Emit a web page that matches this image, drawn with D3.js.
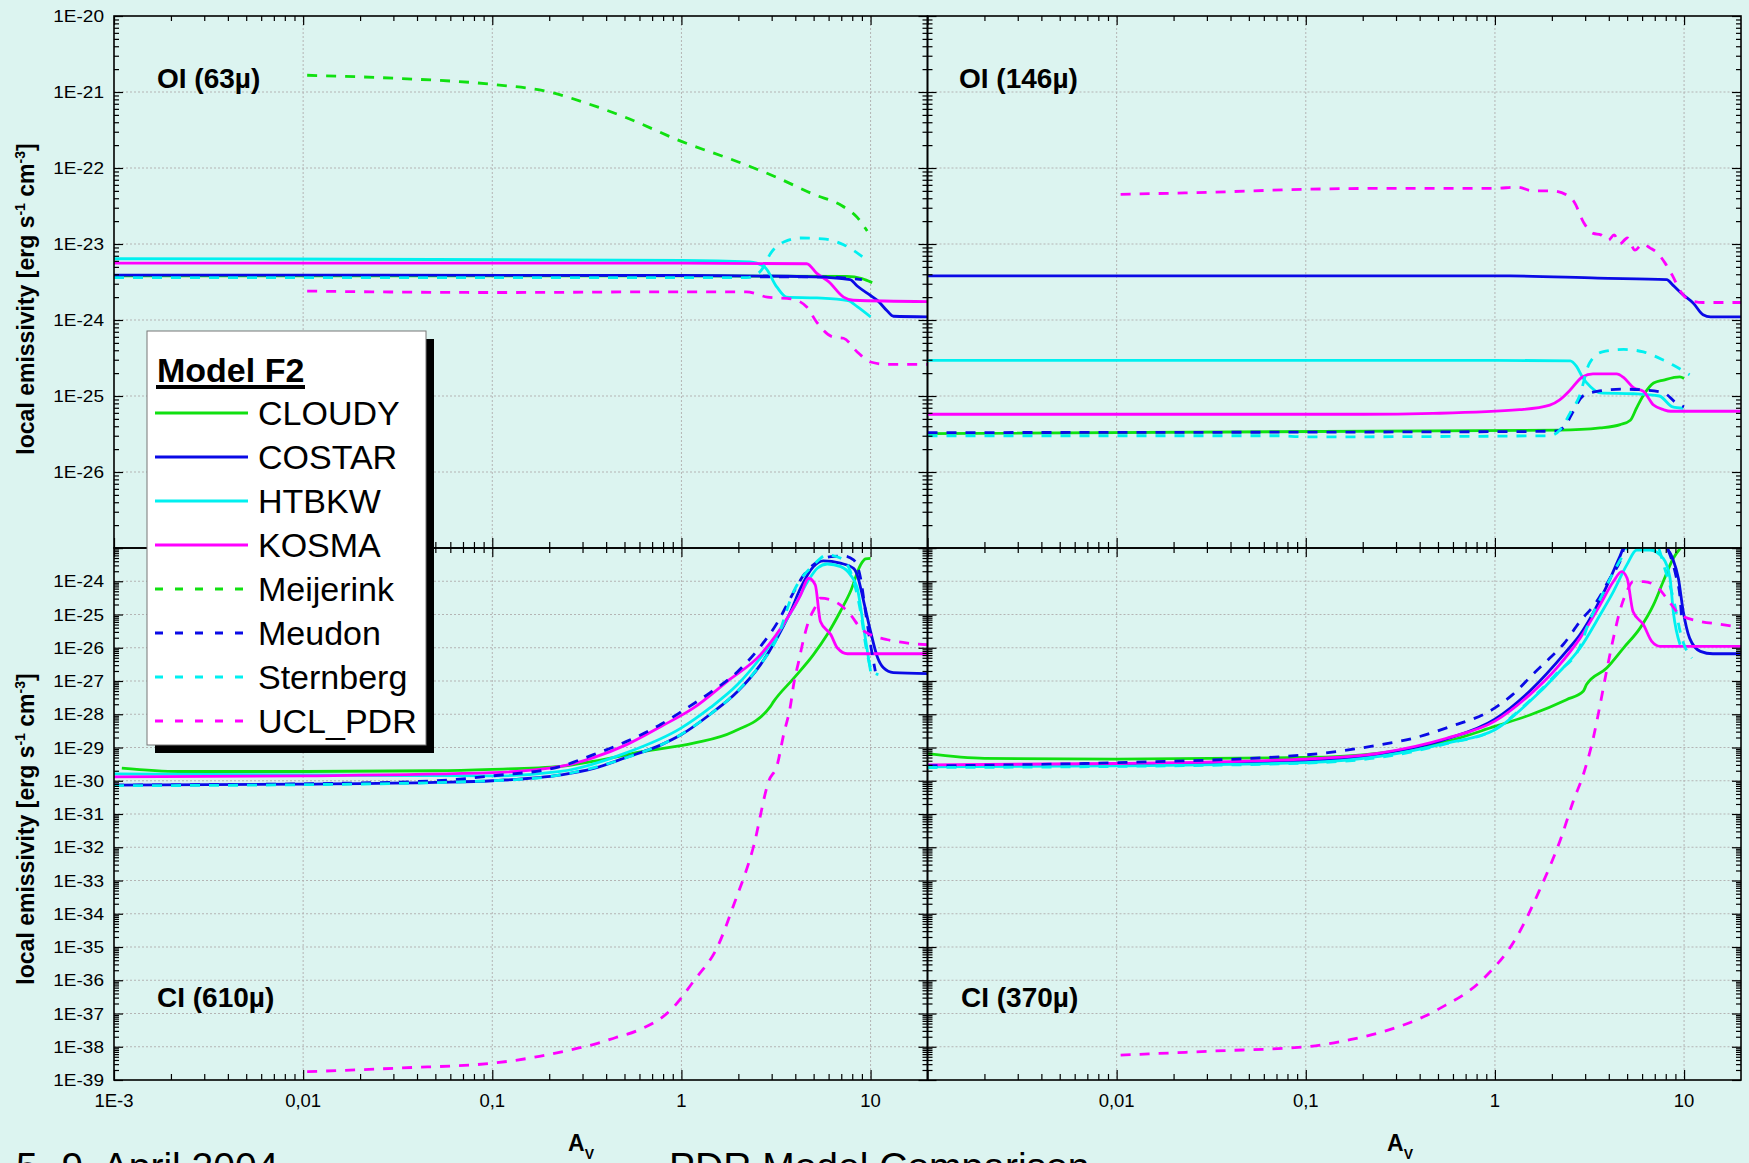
<!DOCTYPE html>
<html><head><meta charset="utf-8">
<script src="https://cdn.jsdelivr.net/npm/d3@7"></script>
<style>body{margin:0;background:#dcf4f0;}svg{display:block;}</style>
</head><body><svg id="c" width="1749" height="1163"></svg>
<script>
// ---------------- DATA (Av, local emissivity) ----------------
const models = ["CLOUDY","COSTAR","HTBKW","KOSMA","Meijerink","Meudon","Sternberg","UCL_PDR"];
const modelColors = ["#10e010","#0a0ae6","#00f0f0","#ff00ff","#10e010","#0a0ae6","#00f0f0","#ff00ff"];
const modelDashed = [false,false,false,false,true,true,true,true];
const xTickValues = [0.001,0.01,0.1,1,10];
const xTickLabels = ["1E-3","0,01","0,1","1","10"];
const topYLabelExps = [-20,-21,-22,-23,-24,-25,-26];
const botYLabelExps = [-24,-25,-26,-27,-28,-29,-30,-31,-32,-33,-34,-35,-36,-37,-38,-39];
const panelTitles = ["OI (63µ)","OI (146µ)","CI (610µ)","CI (370µ)"];

// Panel 1: OI (63µ)
const p1_cloudy = [[0.001,3.8e-24],[1,3.8e-24],[7.5,3.75e-24],[9,3.5e-24],[10.2,3.1e-24]];
const p1_costar = [[0.001,3.9e-24],[1,3.85e-24],[5,3.7e-24],[7.8,3.4e-24],[8.5,2.8e-24],[10,2.1e-24],[10.9,1.8e-24],[12.3,1.3e-24],[13.2,1.12e-24],[20,1.1e-24]];
const p1_htbkw = [[0.001,6.4e-24],[1,6.1e-24],[2.3,5.8e-24],[2.75,5.0e-24],[3.2,2.7e-24],[3.6,2.0e-24],[5.2,1.95e-24],[7.6,1.8e-24],[8.5,1.5e-24],[10,1.1e-24]];
const p1_kosma = [[0.001,5.6e-24],[1,5.6e-24],[4.6,5.5e-24],[5.2,4.1e-24],[6.0,3.2e-24],[7.2,2.0e-24],[8.1,1.82e-24],[20,1.75e-24]];
const p1_meijerink = [[0.0105,1.66e-21],[0.0316,1.51e-21],[0.1,1.26e-21],[0.2,1.0e-21],[0.316,7.1e-22],[0.5,4.7e-22],[1,2.24e-22],[2,1.2e-22],[3.16,7.6e-23],[5,4.5e-23],[7.1,3.16e-23],[8.5,2.24e-23],[9.6,1.48e-23]];
const p1_meudon = [[0.001,3.65e-24],[1,3.7e-24],[5,3.7e-24],[8,3.5e-24],[9,3.4e-24]];
const p1_sternberg = [[0.001,3.6e-24],[2.2,3.6e-24],[2.6,4.3e-24],[3.0,7.9e-24],[3.5,1.07e-23],[4.3,1.2e-23],[5.6,1.17e-23],[7.2,9.8e-24],[9.5,6.2e-24]];
const p1_ucl = [[0.0105,2.4e-24],[0.1,2.3e-24],[1,2.35e-24],[2.2,2.35e-24],[2.85,2.0e-24],[3.8,1.9e-24],[4.6,1.48e-24],[5.2,9.3e-25],[6.3,6.0e-25],[7.2,5.75e-25],[8.5,3.8e-25],[10,2.8e-25],[12.3,2.6e-25],[20,2.6e-25]];

// Panel 2: OI (146µ)
const p2_cloudy = [[0.001,3.2e-26],[2.2,3.55e-26],[3.6,3.8e-26],[4.6,4.2e-26],[5.2,4.8e-26],[5.6,6.9e-26],[6.1,1.02e-25],[6.9,1.48e-25],[7.8,1.62e-25],[9.5,1.78e-25],[10,1.7e-25]];
const p2_costar = [[0.001,3.8e-24],[1.2,3.8e-24],[3.5,3.55e-24],[8.1,3.4e-24],[8.7,2.9e-24],[9.9,2.14e-24],[11.2,1.66e-24],[12.6,1.17e-24],[13.8,1.1e-24],[20,1.1e-24]];
const p2_htbkw = [[0.001,2.95e-25],[1,2.95e-25],[2.5,2.9e-25],[2.7,2.45e-25],[2.9,1.78e-25],[3.2,1.32e-25],[3.6,1.1e-25],[5.4,1.07e-25],[7.4,1.0e-25],[8.7,7.2e-26],[9.9,6.9e-26]];
const p2_kosma = [[0.001,5.75e-26],[0.2,5.75e-26],[0.47,5.9e-26],[1.35,6.6e-26],[1.95,7.6e-26],[2.2,8.9e-26],[2.5,1.2e-25],[2.9,1.78e-25],[3.3,1.95e-25],[4.4,1.95e-25],[4.8,1.74e-25],[5.4,1.29e-25],[6.1,1.15e-25],[6.9,7.6e-26],[7.8,6.6e-26],[8.5,6.3e-26],[20,6.3e-26]];
const p2_meudon = [[0.001,3.3e-26],[1.3,3.4e-26],[2.14,3.47e-26],[2.4,4.4e-26],[2.57,6.0e-26],[2.92,1.0e-25],[3.47,1.15e-25],[4.8,1.23e-25],[6.1,1.2e-25],[7.8,1.1e-25],[9.1,8.1e-26],[10,7.2e-26]];
const p2_sternberg = [[0.001,3.0e-26],[0.07,3.0e-26],[0.1,2.9e-26],[1.95,3.0e-26],[2.2,3.55e-26],[2.5,6.0e-26],[2.8,1.0e-25],[3.16,2.7e-25],[3.7,3.8e-25],[4.8,4.1e-25],[6.1,3.8e-25],[7.8,2.95e-25],[8.7,2.57e-25],[10.7,1.9e-25]];
const p2_ucl = [[0.0105,4.5e-23],[0.0316,4.8e-23],[0.1,5.25e-23],[0.316,5.4e-23],[1,5.4e-23],[1.32,5.6e-23],[1.58,5.0e-23],[2.0,5.0e-23],[2.4,4.4e-23],[2.63,3.55e-23],[2.95,1.9e-23],[3.31,1.38e-23],[3.63,1.32e-23],[3.98,1.12e-23],[4.27,1.32e-23],[4.57,1.0e-23],[5.01,1.2e-23],[5.5,8.3e-24],[6.03,1.0e-23],[6.6,8.9e-24],[7.24,7.6e-24],[7.94,5.6e-24],[8.7,3.8e-24],[9.55,2.4e-24],[10.7,1.82e-24],[12.6,1.7e-24],[20,1.7e-24]];

// Panel 3: CI (610µ)
const p3_cloudy = [[0.0011,2.4e-30],[0.0022,1.9e-30],[0.01,1.9e-30],[0.05,2.0e-30],[0.1,2.2e-30],[0.23,2.7e-30],[0.34,3.8e-30],[0.63,7.6e-30],[1.16,1.35e-29],[1.88,3.0e-29],[2.95,1.7e-28],[3.07,2.4e-28],[3.92,1.2e-27],[4.99,6.2e-27],[5.89,2.45e-26],[6.92,1.23e-25],[7.83,4.9e-25],[8.85,3.1e-24],[9.4,4.7e-24],[10,4.9e-24]];
const p3_costar = [[0.001,7.4e-31],[0.01,7.9e-31],[0.05,8.9e-31],[0.1,1.0e-30],[0.23,1.5e-30],[0.34,2.3e-30],[0.51,5.0e-30],[0.78,1.2e-29],[1,2.45e-29],[1.42,1.0e-28],[1.98,4.8e-28],[2.62,3.1e-27],[3.21,2.0e-26],[3.78,1.23e-25],[4.27,6.3e-25],[4.99,2.75e-24],[5.62,4.1e-24],[6.92,3.5e-24],[8.13,2.45e-24],[8.5,1.55e-24],[9.2,2.45e-25],[10,3.1e-26],[10.9,5.0e-27],[11.7,2.5e-27],[13.2,1.78e-27],[20,1.66e-27]];
const p3_htbkw = [[0.001,1.6e-30],[0.01,1.5e-30],[0.1,1.4e-30],[0.23,1.9e-30],[0.51,6.9e-30],[1,3.9e-29],[1.42,1.58e-28],[1.98,7.8e-28],[2.62,5.0e-27],[3.21,2.45e-26],[3.92,1.58e-25],[4.65,9.8e-25],[5.25,2.5e-24],[5.9,3.3e-24],[6.96,2.75e-24],[7.83,1.55e-24],[8.5,6.3e-25],[9.2,4.0e-26],[10,1.95e-27]];
const p3_kosma = [[0.001,1.3e-30],[0.01,1.4e-30],[0.1,1.75e-30],[0.23,2.7e-30],[0.34,4.9e-30],[0.51,1.2e-29],[0.78,4.3e-29],[1.16,1.55e-28],[1.75,9.8e-28],[2.62,6.2e-27],[3.63,7.8e-26],[4.27,3.9e-25],[4.7,1.23e-24],[5.1,7.8e-25],[5.43,6.2e-26],[6.17,2.45e-26],[6.68,9.8e-27],[7.55,6.6e-27],[20,6.6e-27]];
const p3_meudon = [[0.001,7.4e-31],[0.01,8.1e-31],[0.05,1.0e-30],[0.1,1.4e-30],[0.23,2.7e-30],[0.34,6.0e-30],[0.51,1.5e-29],[0.78,5.0e-29],[1,1.2e-28],[1.42,4.5e-28],[1.98,1.9e-27],[2.62,1.1e-26],[3.21,5.6e-26],[3.78,3.2e-25],[4.44,1.55e-24],[5.25,3.9e-24],[6.17,5.5e-24],[7.2,5.75e-24],[8.13,4.4e-24],[8.85,1.26e-24],[9.4,1.23e-25],[10,1.23e-26],[10.6,1.95e-27]];
const p3_sternberg = [[0.001,7.1e-31],[0.01,7.6e-31],[0.1,1.0e-30],[0.23,1.5e-30],[0.51,4.9e-30],[1,2.5e-29],[1.42,1.0e-28],[1.98,5.0e-28],[2.62,3.2e-27],[3.21,2.0e-26],[3.92,4.9e-25],[5.0,3.1e-24],[5.9,6.2e-24],[6.97,4.9e-24],[7.83,1.95e-24],[8.85,1.23e-25],[9.55,7.8e-27],[10.2,1.95e-27],[11.0,1.55e-27]];
const p3_ucl = [[0.0105,1.78e-39],[0.033,2.3e-39],[0.1,3.2e-39],[0.166,4.8e-39],[0.27,8.5e-39],[0.36,1.26e-38],[0.45,1.9e-38],[0.58,3.0e-38],[0.89,1.38e-37],[1.17,1.0e-36],[1.55,1.0e-35],[1.9,2.0e-34],[2.4,1.0e-32],[2.9,1.0e-30],[3.21,3.0e-30],[3.47,2.45e-29],[3.78,1.95e-28],[3.92,7.8e-28],[4.17,3.9e-27],[4.44,1.95e-26],[4.7,6.2e-26],[5.12,1.74e-25],[5.43,3.1e-25],[6.17,2.75e-25],[6.92,1.95e-25],[7.83,9.8e-26],[8.85,3.9e-26],[10,2.45e-26],[12.3,1.74e-26],[15.7,1.38e-26],[20,1.23e-26]];

// Panel 4: CI (370µ)
const p4_cloudy = [[0.001,6.5e-30],[0.002,4.7e-30],[0.01,4.5e-30],[0.1,5.0e-30],[0.245,6.8e-30],[0.555,1.5e-29],[1,4.3e-29],[1.53,9.5e-29],[2.39,2.75e-28],[2.93,4.9e-28],[3.05,7.8e-28],[3.9,2.45e-27],[4.78,9.8e-27],[5.85,3.9e-26],[6.89,1.95e-25],[7.76,9.8e-25],[8.77,4.9e-24],[9.55,9.8e-24],[10,1.3e-23]];
const p4_costar = [[0.001,2.8e-30],[0.01,3.0e-30],[0.1,4.0e-30],[0.245,6.3e-30],[0.555,1.8e-29],[1,7.1e-29],[1.53,5.0e-28],[2.39,7.9e-27],[2.82,2.5e-26],[3.31,1.12e-25],[3.9,7.1e-25],[4.58,5.6e-24],[5.0,1.6e-23],[7.5,1.6e-23],[8.1,1.0e-23],[8.7,4.9e-24],[9.33,1.23e-24],[9.9,1.23e-25],[10.7,1.95e-26],[12.2,7.8e-27],[14.2,6.6e-27],[20,6.6e-27]];
const p4_htbkw = [[0.001,2.6e-30],[0.01,2.8e-30],[0.1,3.5e-30],[0.245,5.4e-30],[0.555,1.35e-29],[1,3.4e-29],[1.53,2.45e-28],[2.12,1.55e-27],[2.82,9.8e-27],[3.6,9.8e-26],[4.23,4.9e-25],[4.98,3.1e-24],[5.62,8.7e-24],[6.6,8.7e-24],[7.76,4.9e-24],[8.43,1.23e-24],[8.77,1.23e-25],[9.53,1.23e-26]];
const p4_kosma = [[0.001,3.0e-30],[0.01,3.3e-30],[0.1,4.5e-30],[0.245,6.8e-30],[0.555,1.9e-29],[1,6.2e-29],[1.53,3.9e-28],[2.12,2.45e-27],[2.82,1.95e-26],[3.6,1.95e-25],[4.23,9.8e-25],[4.68,1.95e-24],[5.0,1.23e-24],[5.37,1.23e-25],[6.1,4.9e-26],[6.75,1.55e-26],[7.46,1.1e-26],[20,1.1e-26]];
const p4_meudon = [[0.001,2.8e-30],[0.01,3.5e-30],[0.1,6.0e-30],[0.245,1.2e-29],[0.37,1.9e-29],[0.555,3.9e-29],[1,1.55e-28],[1.24,3.9e-28],[1.58,1.55e-27],[1.95,4.9e-27],[2.29,1.23e-26],[2.82,6.2e-26],[3.45,2.45e-25],[4.06,1.23e-24],[4.58,3.9e-24],[5.0,1.6e-23],[7.5,1.6e-23],[8.43,6.2e-24],[9.12,1.23e-24],[9.53,3.1e-25],[9.73,6.2e-26]];
const p4_sternberg = [[0.001,2.5e-30],[0.01,2.7e-30],[0.1,3.4e-30],[0.245,5.0e-30],[0.555,1.3e-29],[1,3.5e-29],[1.53,2.6e-28],[2.12,1.7e-27],[2.82,1.1e-26],[3.16,6.3e-26],[3.63,3.2e-25],[4.17,1.58e-24],[4.79,6.3e-24],[5.25,1.26e-23],[7.1,1.26e-23],[7.94,2.2e-24],[8.77,3.1e-25],[9.73,1.95e-26],[11.0,4.9e-27]];
const p4_ucl = [[0.0105,5.6e-39],[0.032,7.4e-39],[0.1,1.0e-38],[0.174,1.66e-38],[0.224,2.3e-38],[0.506,1.38e-37],[0.87,1.12e-36],[1.31,2.1e-35],[1.71,4.7e-34],[2.25,2.1e-32],[2.6,2.5e-31],[2.93,1.5e-30],[3.31,1.9e-29],[3.6,1.95e-28],[3.89,1.95e-27],[4.23,1.95e-26],[4.57,1.23e-25],[4.98,4.9e-25],[5.37,9.8e-25],[6.1,9.8e-25],[7.18,6.9e-25],[8.09,3.1e-25],[9.53,9.8e-26],[12.2,6.2e-26],[15.5,5.1e-26],[20,4.1e-26]];

// ---------------- LAYOUT ----------------
const W = 1749, H = 1163;
const L = 114, M = 927.5, R = 1741, T = 16, MID = 548, B = 1080;
const bg = "#dcf4f0";
const FONT = "'Liberation Sans', Arial, Helvetica, sans-serif";

const panels = [
  {x0:L, x1:M, y0:T, y1:MID, yd:[1e-27,1e-20], title:panelTitles[0], tx:157, ty:88,
   series:[p1_cloudy,p1_costar,p1_htbkw,p1_kosma,p1_meijerink,p1_meudon,p1_sternberg,p1_ucl], yLab:topYLabelExps, xLab:false},
  {x0:M, x1:R, y0:T, y1:MID, yd:[1e-27,1e-20], title:panelTitles[1], tx:959, ty:88,
   series:[p2_cloudy,p2_costar,p2_htbkw,p2_kosma,null,p2_meudon,p2_sternberg,p2_ucl], yLab:null, xLab:false},
  {x0:L, x1:M, y0:MID, y1:B, yd:[1e-39,1e-23], title:panelTitles[2], tx:157, ty:1007,
   series:[p3_cloudy,p3_costar,p3_htbkw,p3_kosma,null,p3_meudon,p3_sternberg,p3_ucl], yLab:botYLabelExps, xLab:true, firstLabel:true},
  {x0:M, x1:R, y0:MID, y1:B, yd:[1e-39,1e-23], title:panelTitles[3], tx:961, ty:1007,
   series:[p4_cloudy,p4_costar,p4_htbkw,p4_kosma,null,p4_meudon,p4_sternberg,p4_ucl], yLab:null, xLab:true, firstLabel:false}
];

const svg = d3.select("#c");
svg.append("rect").attr("width",W).attr("height",H).attr("fill",bg);
const defs = svg.append("defs");

function decadeMinors(lo, hi){
  const out=[];
  const e0=Math.floor(Math.log10(lo)), e1=Math.ceil(Math.log10(hi));
  for(let e=e0;e<=e1;e++) for(let k=2;k<=9;k++){ const v=k*Math.pow(10,e); if(v>lo*1.0001 && v<hi*0.9999) out.push(v); }
  return out;
}
function decades(lo, hi){
  const out=[];
  for(let e=Math.round(Math.log10(lo)); e<=Math.round(Math.log10(hi)); e++) out.push(Math.pow(10,e));
  return out;
}

panels.forEach((p,i)=>{
  const x = d3.scaleLog().domain([1e-3,20]).range([p.x0,p.x1]);
  const y = d3.scaleLog().domain(p.yd).range([p.y1,p.y0]);
  const g = svg.append("g");

  // grid
  const xg = [0.01,0.1,1,10];
  g.selectAll(".gx").data(xg).join("line")
    .attr("x1",d=>x(d)).attr("x2",d=>x(d)).attr("y1",p.y0).attr("y2",p.y1)
    .attr("stroke","#b4b4b4").attr("stroke-width",1).attr("stroke-dasharray","2,2");
  const yg = decades(p.yd[0],p.yd[1]).filter(v=>v>p.yd[0]*1.001 && v<p.yd[1]*0.999);
  g.selectAll(".gy").data(yg).join("line")
    .attr("x1",p.x0).attr("x2",p.x1).attr("y1",d=>y(d)).attr("y2",d=>y(d))
    .attr("stroke","#b4b4b4").attr("stroke-width",1).attr("stroke-dasharray","2,2");

  // clip
  const cid="clip"+i;
  defs.append("clipPath").attr("id",cid).append("rect")
    .attr("x",p.x0).attr("y",p.y0).attr("width",p.x1-p.x0).attr("height",p.y1-p.y0);
  const lg = g.append("g").attr("clip-path",`url(#${cid})`);
  const line = d3.line().x(d=>x(d[0])).y(d=>y(d[1])).curve(d3.curveMonotoneX);
  p.series.forEach((s,k)=>{
    if(!s) return;
    lg.append("path").attr("d",line(s)).attr("fill","none")
      .attr("stroke",modelColors[k]).attr("stroke-width",2.8)
      .attr("stroke-linejoin","round")
      .attr("stroke-dasharray",modelDashed[k]?"10,9":null);
  });

  // ticks via d3 axes (inward)
  const xMaj = xTickValues, xMin = decadeMinors(1e-3,20);
  const yMaj = decades(p.yd[0],p.yd[1]), yMin = decadeMinors(p.yd[0],p.yd[1]);
  function ax(axisFn, scale, vals, size, tr){
    const a = g.append("g").attr("transform",tr)
      .call(axisFn(scale).tickValues(vals).tickSize(size).tickSizeOuter(0).tickFormat(""));
    a.select(".domain").remove();
    a.selectAll("line").attr("stroke","#000").attr("stroke-width",1.2);
  }
  ax(d3.axisBottom, x, xMaj, 9, `translate(0,${p.y0})`);
  ax(d3.axisBottom, x, xMin, 5, `translate(0,${p.y0})`);
  ax(d3.axisTop, x, xMaj, 10, `translate(0,${p.y1})`);
  ax(d3.axisTop, x, xMin, 6, `translate(0,${p.y1})`);
  ax(d3.axisRight, y, yMaj, 9, `translate(${p.x0},0)`);
  ax(d3.axisRight, y, yMin, 5, `translate(${p.x0},0)`);
  ax(d3.axisLeft, y, yMaj, 9, `translate(${p.x1},0)`);
  ax(d3.axisLeft, y, yMin, 5, `translate(${p.x1},0)`);

  // frame
  g.append("rect").attr("x",p.x0).attr("y",p.y0).attr("width",p.x1-p.x0).attr("height",p.y1-p.y0)
    .attr("fill","none").attr("stroke","#000").attr("stroke-width",1.6);

  // y labels
  if(p.yLab){
    p.yLab.forEach(e=>{
      const yy = y(Math.pow(10,e));
      svg.append("text").attr("transform",`translate(104,${yy}) scale(1.12,1)`)
        .attr("text-anchor","end").attr("dy","0.36em")
        .attr("font-family",FONT).attr("font-size",17).attr("fill","#000")
        .text("1E"+e);
    });
  }
  // x labels
  if(p.xLab){
    xTickValues.forEach((v,k)=>{
      if(k===0 && !p.firstLabel) return;
      svg.append("text").attr("x",x(v)).attr("y",1107).attr("text-anchor","middle")
        .attr("font-family",FONT).attr("font-size",18.5).attr("fill","#000")
        .text(xTickLabels[k]);
    });
  }
  // panel title
  svg.append("text").attr("x",p.tx).attr("y",p.ty)
    .attr("font-family",FONT).attr("font-size",28).attr("font-weight","bold").attr("fill","#000")
    .text(p.title);
});

// y-axis titles
function yTitle(cy){
  const t = svg.append("text").attr("transform",`translate(34,${cy}) rotate(-90)`)
    .attr("text-anchor","middle").attr("font-family",FONT).attr("font-size",23)
    .attr("font-weight","bold").attr("fill","#000");
  t.append("tspan").text("local emissivity [erg s");
  t.append("tspan").attr("dy",-9).attr("font-size",14).text("-1");
  t.append("tspan").attr("dy",9).text(" cm");
  t.append("tspan").attr("dy",-9).attr("font-size",14).text("-3");
  t.append("tspan").attr("dy",9).text("]");
}
yTitle(299);
yTitle(829);

// x-axis titles A_V
[568,1387].forEach(ax0=>{
  const t = svg.append("text").attr("x",ax0).attr("y",1151)
    .attr("font-family",FONT).attr("font-size",23).attr("font-weight","bold").attr("fill","#000");
  t.append("tspan").text("A");
  t.append("tspan").attr("dy",8).attr("font-size",14).text("V");
});

// footer texts (partly below the bottom edge, as in the original slide)
svg.append("text").attr("x",16).attr("y",1180).attr("font-family",FONT).attr("font-size",39).attr("fill","#000").text("5.-9. April 2004");
svg.append("text").attr("x",669).attr("y",1180).attr("font-family",FONT).attr("font-size",39).attr("fill","#000").text("PDR Model Comparison");

// legend
const lgX=147, lgY=331, lgW=279, lgH=414;
svg.append("rect").attr("x",lgX+8).attr("y",lgY+8).attr("width",lgW).attr("height",lgH).attr("fill","#000");
svg.append("rect").attr("x",lgX).attr("y",lgY).attr("width",lgW).attr("height",lgH).attr("fill","#fff").attr("stroke","#777").attr("stroke-width",1);
svg.append("text").attr("x",157).attr("y",382).attr("font-family",FONT).attr("font-size",34).attr("font-weight","bold").attr("fill","#000").text("Model F2");
svg.append("rect").attr("x",156).attr("y",385).attr("width",149).attr("height",4).attr("fill","#000");
models.forEach((m,k)=>{
  const yy = 413 + k*44;
  svg.append("line").attr("x1",155).attr("x2",248).attr("y1",yy).attr("y2",yy)
    .attr("stroke",modelColors[k]).attr("stroke-width",3)
    .attr("stroke-dasharray",modelDashed[k]?"8,12":null);
  svg.append("text").attr("x",258).attr("y",yy+12).attr("font-family",FONT).attr("font-size",34).attr("fill","#000").text(m);
});
</script></body></html>
